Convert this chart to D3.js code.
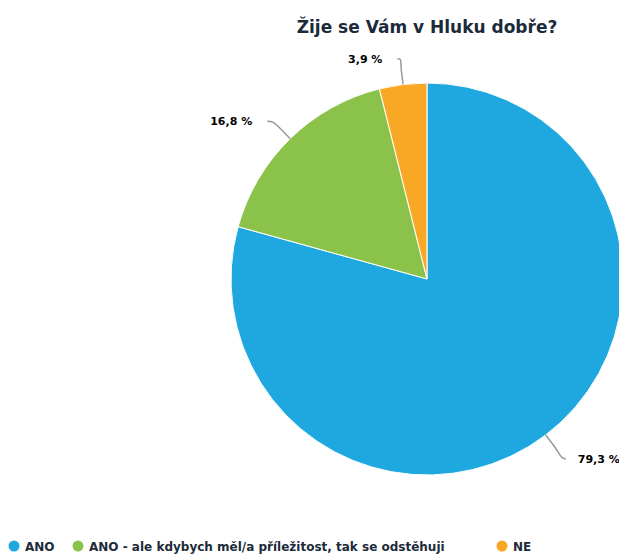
<!DOCTYPE html>
<html>
<head>
<meta charset="utf-8">
<script src="https://cdn.jsdelivr.net/npm/d3@7"></script>
<style>
  body { margin: 0; background: #fff; }
  text { font-family: "DejaVu Sans", "Liberation Sans", sans-serif; }
</style>
</head>
<body>
<svg width="619" height="557"></svg>
<script>
// chart data
var categories = ["ANO", "ANO - ale kdybych měl/a příležitost, tak se odstěhuji", "NE"];
var values = [79.3, 16.8, 3.9];
var colors = ["#1fa8e0", "#8bc34a", "#f9a825"];
var titleText = "Žije se Vám v Hluku dobře?";

var svg = d3.select("svg"),
    width = +svg.attr("width"),
    height = +svg.attr("height");

var cx = 427, cy = 279, radius = 196, labelDistance = 30;

var pie = d3.pie().sort(null).value(function(d) { return d; });
var arcs = pie(values);
var arc = d3.arc().innerRadius(0).outerRadius(radius);

// title
svg.append("text")
    .attr("x", cx)
    .attr("y", 33)
    .attr("text-anchor", "middle")
    .attr("font-size", 17)
    .attr("font-weight", "bold")
    .attr("fill", "#1c2a3a")
    .text(titleText);

var g = svg.append("g").attr("transform", "translate(" + cx + "," + cy + ")");

g.selectAll("path.slice")
    .data(arcs)
    .enter().append("path")
    .attr("class", "slice")
    .attr("d", arc)
    .attr("fill", function(d, i) { return colors[i]; })
    .attr("stroke", "#fff")
    .attr("stroke-width", 1);

function pt(angle, r)
{
    return [Math.sin(angle) * r, -Math.cos(angle) * r];
}

// labels with soft connectors
arcs.forEach(function(d)
{
    var mid = (d.startAngle + d.endAngle) / 2;
    var side = Math.sin(mid) >= 0 ? 1 : -1;
    var touch = pt(mid, radius);
    var brk = pt(mid, radius + 12);
    var outer = pt(mid, radius + labelDistance);
    var lx = outer[0] + side * 2,
        ly = outer[1] + (side < 0 ? 4 : 0);
    var path = "M" + lx + "," + ly +
        "C" + (lx - side * 5) + "," + ly + " " +
        (2 * brk[0] - touch[0]) + "," + (2 * brk[1] - touch[1]) + " " +
        brk[0] + "," + brk[1] +
        "L" + touch[0] + "," + touch[1];
    g.append("path")
        .attr("d", path)
        .attr("fill", "none")
        .attr("stroke", "#999")
        .attr("stroke-width", 1.5);
    var label = d3.format(".1f")(d.data).replace(".", ",") + " %";
    g.append("text")
        .attr("x", lx + side * (side < 0 ? 15 : 12))
        .attr("y", ly + 4)
        .attr("text-anchor", side > 0 ? "start" : "end")
        .attr("font-size", 11)
        .attr("font-weight", "bold")
        .attr("fill", "#000")
        .attr("stroke", "#fff")
        .attr("stroke-width", 2)
        .attr("paint-order", "stroke")
        .text(label);
});

// legend
var legendX = [14, 78, 502];
var legend = svg.append("g").attr("class", "legend");
categories.forEach(function(c, i)
{
    var item = legend.append("g").attr("transform", "translate(" + legendX[i] + "," + 546 + ")");
    item.append("circle")
        .attr("r", 5.5)
        .attr("fill", colors[i]);
    item.append("text")
        .attr("x", 11)
        .attr("y", 4.5)
        .attr("font-size", 12)
        .attr("font-weight", "bold")
        .attr("fill", "#1c2a3a")
        .text(c);
});
</script>
</body>
</html>
